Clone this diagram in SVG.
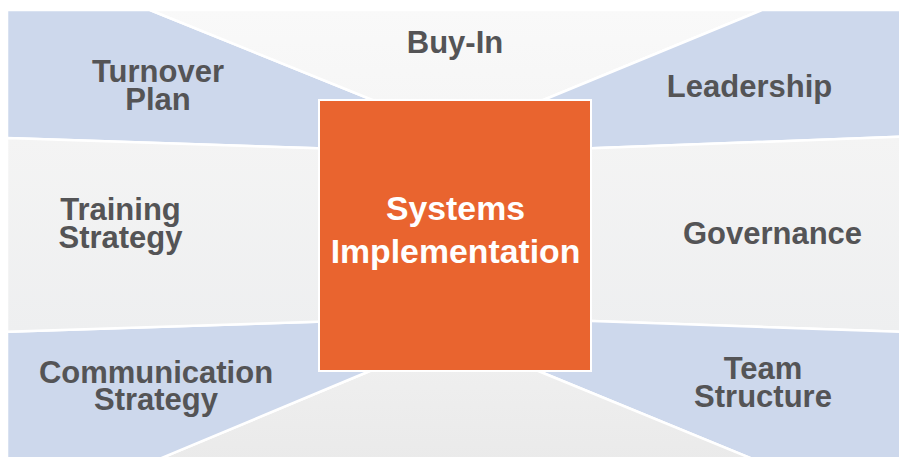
<svg xmlns="http://www.w3.org/2000/svg" width="899" height="457" viewBox="0 0 899 457">
<defs>
<style>
.blue{fill:#cdd8ec;stroke:#ffffff;stroke-width:2.5;stroke-linejoin:round}
.gray{stroke:#ffffff;stroke-width:2.5;stroke-linejoin:round}
.lbl{font-family:"Liberation Sans",Arial,sans-serif;font-weight:bold;font-size:31px;fill:#545456;text-anchor:middle}
.center{font-family:"Liberation Sans",Arial,sans-serif;font-weight:bold;font-size:33.8px;fill:#ffffff;text-anchor:middle}
</style>
<linearGradient id="gTop" x1="0" y1="0" x2="0" y2="1"><stop offset="0" stop-color="#f9f9f9"/><stop offset="1" stop-color="#f6f6f6"/></linearGradient>
<linearGradient id="gMid" x1="0" y1="0" x2="0" y2="1"><stop offset="0" stop-color="#f4f4f4"/><stop offset="1" stop-color="#eeeff0"/></linearGradient>
<linearGradient id="gBot" x1="0" y1="0" x2="0" y2="1"><stop offset="0" stop-color="#efefef"/><stop offset="1" stop-color="#eaeaea"/></linearGradient>
</defs>
<rect width="899" height="457" fill="#ffffff"/>
<g id="turnover-plan">
<polygon class="blue" points="7,10 150,10 380,103 325,148.6 7,138"/>
<text class="lbl" x="158" y="82">Turnover</text>
<text class="lbl" x="158" y="110">Plan</text>
</g>
<g id="buy-in">
<polygon class="gray" fill="url(#gTop)" points="150,10 762,10 536,103 380,103"/>
<text class="lbl" x="455" y="53">Buy-In</text>
</g>
<g id="leadership">
<polygon class="blue" points="762,10 902,10 902,136.6 585,148.6 536,103"/>
<text class="lbl" x="749.5" y="97">Leadership</text>
</g>
<g id="governance">
<polygon class="gray" fill="url(#gMid)" points="902,136.6 902,331.8 585,320.7 585,148.6"/>
<text class="lbl" x="772.5" y="244">Governance</text>
</g>
<g id="team-structure">
<polygon class="blue" points="902,331.8 902,462 760,462 531,368 585,320.7"/>
<text class="lbl" x="763" y="379">Team</text>
<text class="lbl" x="763" y="407">Structure</text>
</g>
<g id="bottom">
<polygon class="gray" fill="url(#gBot)" points="760,462 152,462 377,368 531,368"/>
</g>
<g id="communication-strategy">
<polygon class="blue" points="7,331.8 325,321.4 377,368 152,462 7,462"/>
<text class="lbl" x="156" y="383">Communication</text>
<text class="lbl" x="156" y="410">Strategy</text>
</g>
<g id="training-strategy">
<polygon class="gray" fill="url(#gMid)" points="7,138 325,148.6 325,321.4 7,331.8"/>
<text class="lbl" x="120.5" y="220">Training</text>
<text class="lbl" x="120.5" y="248">Strategy</text>
</g>
<g id="systems-implementation">
<rect x="319" y="100" width="272" height="271" fill="#e9642f" stroke="#ffffff" stroke-width="2"/>
<text class="center" x="455.5" y="220">Systems</text>
<text class="center" x="455.5" y="263">Implementation</text>
</g>
<g id="connectors"/>
</svg>
